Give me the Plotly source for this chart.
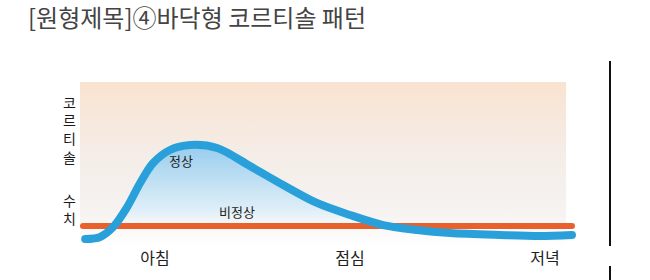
import plotly.graph_objects as go

# Data (x in hours of the day, y = relative cortisol level 0..10)
hours = [4.85, 5.31, 5.71, 6.14, 6.54, 6.94, 7.46, 8.08, 8.91, 9.92, 10.94, 11.98, 13.0, 14.02, 15.06, 16.08, 17.62, 18.85, 19.83]
cortisol = [0.48, 0.61, 1.21, 2.42, 3.88, 5.09, 5.88, 6.18, 6.0, 4.91, 3.76, 2.67, 1.94, 1.33, 1.03, 0.85, 0.73, 0.67, 0.73]
flat_hours = [4.78, 19.83]
flat_level = [1.27, 1.27]
tick_hours = [7, 13, 19]
tick_labels = ["아침", "점심", "저녁"]
y_label_top = "코<br>르<br>티<br>솔"
y_label_bottom = "수<br>치"
x_range = [4.69, 20.2]
y_range = [0, 10]

FONT = "Noto Sans CJK KR"
fig = go.Figure()

# peach background gradient
fig.add_trace(go.Scatter(
    x=[x_range[0], x_range[1] - 0.55, x_range[1] - 0.55, x_range[0], x_range[0]],
    y=[0, 0, 10, 10, 0], mode="lines", line=dict(width=0), fill="toself",
    fillgradient=dict(type="vertical", start=0, stop=10,
                      colorscale=[[0, "rgba(255,255,255,1)"], [0.2, "#f6f3f1"], [0.55, "#f4ede8"], [1, "#f9e3d0"]]),
    hoverinfo="skip", showlegend=False))

# blue fill under normal curve
fig.add_trace(go.Scatter(
    x=hours, y=cortisol, mode="lines", line=dict(width=0, shape="spline", smoothing=0.9),
    fill="tozeroy",
    fillgradient=dict(type="vertical", start=0.8, stop=6.2,
                      colorscale=[[0, "rgba(255,255,255,0)"], [0.25, "rgba(222,239,249,0.9)"], [1, "#95cced"]]),
    hoverinfo="skip", showlegend=False))

# abnormal flat line
fig.add_trace(go.Scatter(
    x=flat_hours, y=flat_level, mode="lines+markers",
    line=dict(color="#e8612c", width=6), marker=dict(color="#e8612c", size=6),
    hoverinfo="skip", showlegend=False))

# normal curve
fig.add_trace(go.Scatter(
    x=hours, y=cortisol, mode="lines",
    line=dict(color="#2aa0da", width=8, shape="spline", smoothing=0.9),
    hoverinfo="skip", showlegend=False))
fig.add_trace(go.Scatter(
    x=[hours[0], hours[-1]], y=[cortisol[0], cortisol[-1]], mode="markers",
    marker=dict(color="#2aa0da", size=8), hoverinfo="skip", showlegend=False))

fig.add_annotation(x=7.8, y=5.27, text="정상", showarrow=False,
                   font=dict(family=FONT, size=13, color="#222"))
fig.add_annotation(x=9.52, y=2.18, text="비정상", showarrow=False,
                   font=dict(family=FONT, size=13, color="#222"))

# vertical axis label
fig.add_annotation(xref="paper", yref="paper", x=-0.02, y=(247 - 129.5) / 165,
                   text=y_label_top, showarrow=False, xanchor="center", yanchor="middle",
                   font=dict(family=FONT, size=14, color="#1a1a1a"))
fig.add_annotation(xref="paper", yref="paper", x=-0.02, y=(247 - 208.5) / 165,
                   text=y_label_bottom, showarrow=False, xanchor="center", yanchor="middle",
                   font=dict(family=FONT, size=14, color="#1a1a1a"))

# divider line at right
fig.add_shape(type="line", xref="paper", yref="paper", x0=(610 - 80) / 504, x1=(610 - 80) / 504,
              y0=(247 - 61) / 165, y1=(247 - 246) / 165, line=dict(color="#111", width=2))
fig.add_shape(type="line", xref="paper", yref="paper", x0=(610 - 80) / 504, x1=(610 - 80) / 504,
              y0=(247 - 266) / 165, y1=(247 - 285) / 165, line=dict(color="#111", width=2))

fig.update_layout(
    width=650, height=280,
    margin=dict(l=80, r=66, t=82, b=33),
    paper_bgcolor="white", plot_bgcolor="white",
    title=dict(text="[원형제목]④바닥형 코르티솔 패턴", x=28 / 650, xanchor="left", y=1 - 19 / 280, yanchor="middle",
               font=dict(family=FONT, size=24, color="#444")),
    xaxis=dict(range=x_range, tickvals=tick_hours, ticktext=tick_labels, showgrid=False, zeroline=False,
               showline=False, ticks="", tickfont=dict(family=FONT, size=16, color="#222")),
    yaxis=dict(range=y_range, showgrid=False, zeroline=False, showline=False, showticklabels=False, ticks=""),
)

fig.write_html("out.html")
